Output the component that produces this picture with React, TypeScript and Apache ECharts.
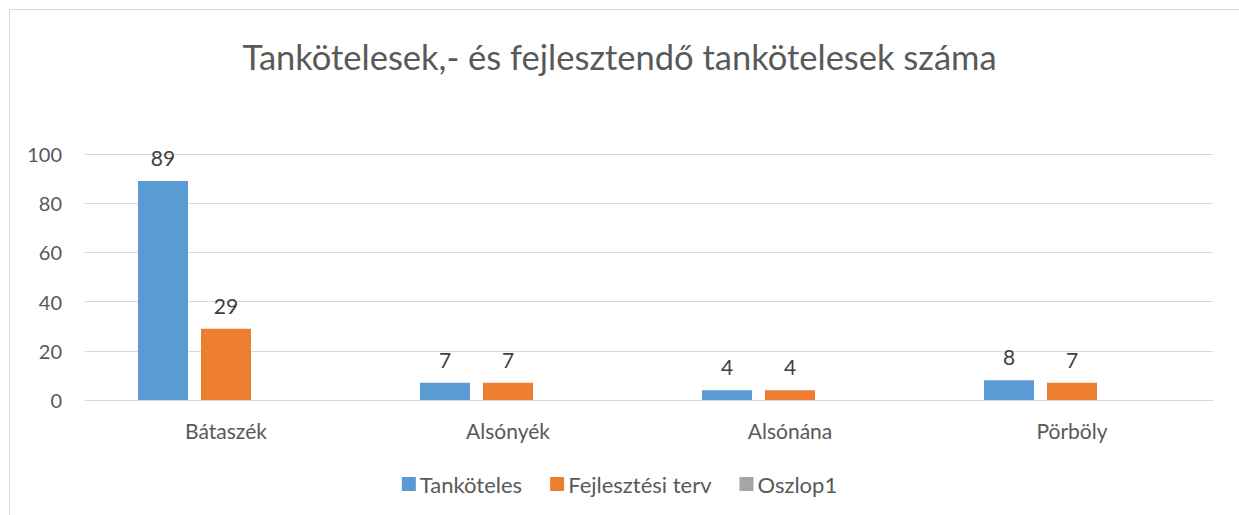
import React, { useEffect, useRef } from "react";
import * as echarts from "echarts";

const categories = ["Bátaszék", "Alsónyék", "Alsónána", "Pörböly"];
const tankoteles = [89, 7, 4, 8];
const fejlesztesi = [29, 7, 4, 7];
const oszlop1: (number | null)[] = [null, null, null, null];
const yTicks = { min: 0, max: 100, interval: 20 };

const FONT = "Lato, 'Open Sans', sans-serif";

export default function App() {
  const ref = useRef<HTMLDivElement>(null);
  useEffect(() => {
    if (!ref.current) return;
    const chart = echarts.init(ref.current, undefined, { renderer: "svg" });
    const label = {
      show: true,
      position: "top" as const,
      distance: 13,
      color: "#404040",
      fontSize: 21,
      fontFamily: FONT,
    };
    chart.setOption({
      animation: false,
      backgroundColor: "#ffffff",
      graphic: [
        {
          type: "rect",
          shape: { x: 9.5, y: 9.5, width: 1260, height: 540 },
          style: { fill: "none", stroke: "#d9d9d9", lineWidth: 1 },
          silent: true,
        },
      ],
      title: {
        text: "Tankötelesek,- és fejlesztendő tankötelesek száma",
        left: "center",
        top: 34,
        textStyle: {
          color: "#595959",
          fontSize: 34.5,
          fontWeight: "normal",
          fontFamily: FONT,
        },
      },
      legend: {
        bottom: 15,
        left: "center",
        itemWidth: 14,
        itemHeight: 14,
        itemGap: 28,
        icon: "rect",
        textStyle: { color: "#595959", fontSize: 22, fontFamily: FONT, padding: [0, 0, 0, -1] },
        data: ["Tanköteles", "Fejlesztési terv", "Oszlop1"],
      },
      grid: { left: 85, right: 26, top: 154, bottom: 115, containLabel: false },
      xAxis: {
        type: "category",
        data: categories,
        axisLine: { show: true, lineStyle: { color: "#d9d9d9", width: 1 } },
        axisTick: { show: false },
        axisLabel: { color: "#595959", fontSize: 21, fontFamily: FONT, margin: 20 },
      },
      yAxis: {
        type: "value",
        min: yTicks.min,
        max: yTicks.max,
        interval: yTicks.interval,
        axisLine: { show: false },
        axisTick: { show: false },
        axisLabel: { color: "#595959", fontSize: 20, fontFamily: FONT, margin: 23 },
        splitLine: { lineStyle: { color: "#d9d9d9", width: 1 } },
      },
      series: [
        {
          name: "Tanköteles",
          type: "bar",
          data: tankoteles,
          barWidth: 50,
          barGap: "26%",
          itemStyle: { color: "#5b9bd5" },
          label,
        },
        {
          name: "Fejlesztési terv",
          type: "bar",
          data: fejlesztesi,
          barWidth: 50,
          barGap: "26%",
          itemStyle: { color: "#ed7d31" },
          label,
        },
        {
          name: "Oszlop1",
          type: "bar",
          data: oszlop1,
          barWidth: 50,
          barGap: "26%",
          itemStyle: { color: "#a5a5a5" },
          label,
        },
      ],
    });
    return () => chart.dispose();
  }, []);
  return <div ref={ref} style={{ width: 1239, height: 515 }} />;
}

if (typeof document !== "undefined") {
  document.body.style.margin = "0";
}
